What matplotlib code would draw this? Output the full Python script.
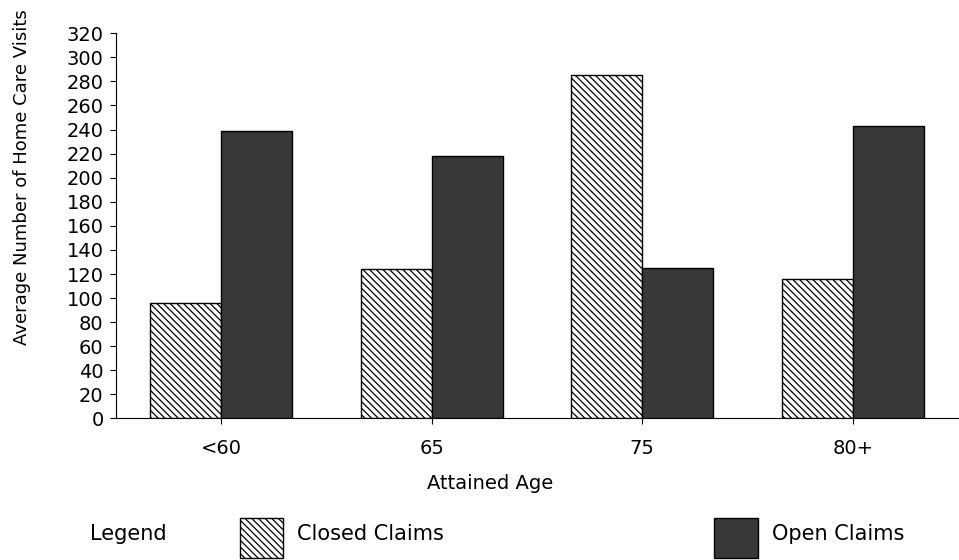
import numpy as np
import matplotlib
matplotlib.use("Agg")
import matplotlib.pyplot as plt
from matplotlib.patches import Rectangle

plt.rcParams["font.family"] = ["DejaVu Sans"]
plt.rcParams["hatch.linewidth"] = 0.9

# data
ages = ["<60", "65", "75", "80+"]
closed_claims = [96, 124, 285, 116]
open_claims = [239, 218, 125, 243]
yticks = list(range(0, 321, 20))

closed_style = dict(facecolor="white", edgecolor="black", hatch="\\\\\\\\\\", linewidth=1.0)
open_style = dict(facecolor="#383838", edgecolor="black", linewidth=1.0)

fig = plt.figure(figsize=(9.59, 5.60), dpi=100)
ax = fig.add_axes([0.121, 0.2527, 0.878, 0.688])

x = np.arange(len(ages))
width = 0.337
ax.bar(x - width / 2, closed_claims, width, **closed_style)
ax.bar(x + width / 2, open_claims, width, **open_style)

ax.set_xlim(-0.5, 3.5)
ax.set_ylim(0, 320)
ax.set_yticks(yticks)
ax.set_yticklabels([str(t) for t in yticks], fontsize=14)
ax.set_xticks(x)
ax.set_xticklabels(ages, fontsize=14)

for side in ["top", "right"]:
    ax.spines[side].set_visible(False)
ax.spines["left"].set_linewidth(0.8)
ax.spines["bottom"].set_linewidth(0.8)
ax.tick_params(axis="y", direction="out", length=4, width=0.8, pad=5)
ax.tick_params(axis="x", direction="out", length=4, width=0.8, pad=11)

fig.text(0.023, 0.684, "Average Number of Home Care Visits", rotation=90,
         ha="center", va="center", fontsize=13)
fig.text(0.511, 0.136, "Attained Age", ha="center", va="center", fontsize=14)

# legend drawn by hand along the bottom
fig.text(0.094, 0.047, "Legend", ha="left", va="center", fontsize=15)
fig.add_artist(Rectangle((0.250, 0.004), 0.045, 0.071, transform=fig.transFigure,
                         **closed_style))
fig.text(0.310, 0.047, "Closed Claims", ha="left", va="center", fontsize=15)
fig.add_artist(Rectangle((0.7445, 0.004), 0.046, 0.071, transform=fig.transFigure,
                         **open_style))
fig.text(0.805, 0.047, "Open Claims", ha="left", va="center", fontsize=15)

fig.savefig("out.png", dpi=100)
